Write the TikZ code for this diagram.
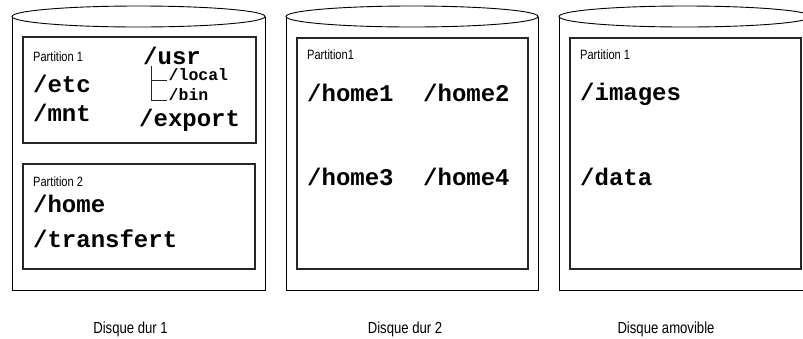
\documentclass[tikz,border=0pt]{standalone}
\usepackage{fontspec}
\setmonofont{Liberation Mono}
\newfontfamily\labelfont{Liberation Sans}[FakeStretch=0.82]
\begin{document}
\begin{tikzpicture}[x=1pt, y=-1pt,
  disk/.style={draw=black, line width=0.9pt},
  part/.style={draw=black!85, line width=1.1pt},
  tree/.style={draw=black!85, line width=0.8pt},
  dir/.style={font=\ttfamily\bfseries\fontsize{24}{28}\selectfont, inner sep=0pt, anchor=base west},
  subdir/.style={font=\ttfamily\bfseries\fontsize{16.5}{20}\selectfont, inner sep=0pt, anchor=base west},
  plabel/.style={font=\labelfont\fontsize{13.5}{16}\selectfont, inner sep=0pt, anchor=base west},
  dlabel/.style={font=\labelfont\fontsize{16}{19}\selectfont, inner sep=0pt, anchor=base}]
\useasboundingbox (0,0) rectangle (803,338);
\clip (0,0) rectangle (803,338);

% disk bodies: open top ellipse, straight sides and a flat bottom
\foreach \xl/\xr in {12/265, 286/538, 559/811}{
  \draw[disk] (\xl,16.5) -- (\xl,290) -- (\xr,290) -- (\xr,16.5);
  \draw[disk] ({(\xl+\xr)/2},16.5) ellipse [x radius={(\xr-\xl)/2*1pt}, y radius=10.5pt];
}

% partitions
\draw[part] (23,37) rectangle (256,143);
\draw[part] (23,164) rectangle (255,269);
\draw[part] (297,38) rectangle (528,269);
\draw[part] (570,38) rectangle (801,269);

% first disk, partition 1
\node[plabel] (p11) at (33,61) {Partition 1};
\node[dir] (etc) at (33,92) {/etc};
\node[dir] (mnt) at (33,121) {/mnt};
\node[dir] (usr) at (143,64) {/usr};
\node[subdir] (local) at (168.5,80) {/local};
\node[subdir] (bin) at (168.5,100) {/bin};
\node[dir] (export) at (139,126) {/export};
\coordinate (usrstem) at (151,66);
\draw[tree] (usrstem) |- ([xshift=-1.5pt]local.base west);
\draw[tree] (usrstem) |- ([xshift=-1.5pt]bin.base west);

% first disk, partition 2
\node[plabel] (p12) at (33,186) {Partition 2};
\node[dir] (home) at (33,212) {/home};
\node[dir] (transfert) at (33,247) {/transfert};

% second disk
\node[plabel] (p21) at (307,59) {Partition1};
\node[dir] (home1) at (307,101) {/home1};
\node[dir] (home2) at (423,101) {/home2};
\node[dir] (home3) at (307,185) {/home3};
\node[dir] (home4) at (423,185) {/home4};

% removable disk
\node[plabel] (p31) at (580,59) {Partition 1};
\node[dir] (images) at (580,100) {/images};
\node[dir] (data) at (580,185) {/data};

% disk captions
\node[dlabel] (d1) at (130.5,333) {Disque dur 1};
\node[dlabel] (d2) at (405,333) {Disque dur 2};
\node[dlabel] (d3) at (666,333) {Disque amovible};
\end{tikzpicture}
\end{document}
